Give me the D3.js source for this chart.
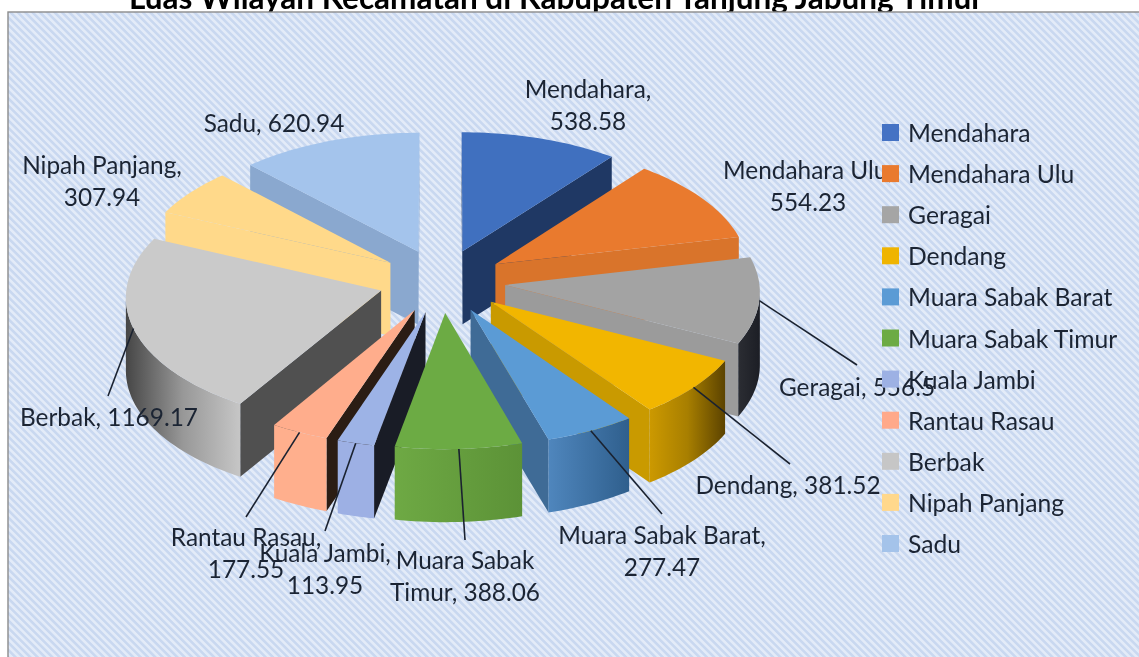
<!DOCTYPE html>
<html><head><meta charset="utf-8">
<script src="https://cdn.jsdelivr.net/npm/d3@7"></script>
<style>html,body{margin:0;padding:0;background:#fff;overflow:hidden}svg{display:block;filter:blur(.45px)}text{font-family:Lato,"Open Sans",sans-serif;fill:#1b2433}</style>
</head><body><svg id="c" width="1139" height="657"></svg>
<script>
const titleText = "Luas Wilayah Kecamatan di Kabupaten Tanjung Jabung Timur";
const categories = ["Mendahara","Mendahara Ulu","Geragai","Dendang","Muara Sabak Barat","Muara Sabak Timur","Kuala Jambi","Rantau Rasau","Berbak","Nipah Panjang","Sadu"];
const values = [538.58,554.23,556.5,381.52,277.47,388.06,113.95,177.55,1169.17,307.94,620.94];
const legendColors = ["#4472c4","#e97a2e","#a5a5a5","#efb400","#5b9bd5","#6cab44","#9db1e4","#ffa98a","#c6c6c6","#ffd88c","#a4c3ea"];
const topColors = ["#4070bf","#e97a2e","#a3a3a3","#f2b600","#5b9bd5","#6cab44","#9db3e6","#ffad8c","#cacaca","#ffd98a","#a4c4ec"];
const radialWallColors = ["#1f3864","#d9742b","#9b9b9b","#c99a00","#3f6b96","#5c9237","#191c26","#2b1d14","#505050","#ffd98a","#8aa8cf"];
const outerWallStops = [["#1f3864","#1f3864"],["#d9742b","#d9742b"],["#2b2d33","#1c1e25"],["#cc9900","#a87f00","#5c4300"],["#4f86bd","#2f5f8d"],["#6ea944","#5c9237"],["#9db0e4","#9db0e4"],["#ffaf8d","#ffaf8d"],["#464646","#989898","#c6c6c6"],["#ffd98a","#ffd98a"],["#8aa8cf","#8aa8cf"]];

const labelLines = [["Mendahara,","538.58"],["Mendahara Ulu,","554.23"],["Geragai, 556.5"],["Dendang, 381.52"],["Muara Sabak Barat,","277.47"],["Muara Sabak","Timur, 388.06"],["Kuala Jambi,","113.95"],["Rantau Rasau,","177.55"],["Berbak, 1169.17"],["Nipah Panjang,","307.94"],["Sadu, 620.94"]];
const labelX = [588,808,857,788,662,465,325,246,109,102,274];
const labelBase = [98,179,396,494,544,569,562,546,426,174,132];
const leaderEnd = [null,null,[857,365],[790,464],[662,514],[465,540],[325,531],[246,517],[108,396],null,null];

const svg = d3.select("#c");
const defs = svg.append("defs");
const period=5.2;
const pat = defs.append("pattern").attr("id","stripes").attr("width",period).attr("height",period)
  .attr("patternUnits","userSpaceOnUse").attr("patternTransform","rotate(45)");
pat.append("rect").attr("width",period).attr("height",period).attr("fill","#e3ebf8");
pat.append("rect").attr("width",period).attr("height",period/2).attr("fill","#c9d8f0");

svg.append("text").attr("x",556).attr("y",9).attr("text-anchor","middle")
  .attr("font-size",31.5).attr("font-weight",700).style("fill","#000").text(titleText);
svg.append("rect").attr("x",8).attr("y",12).attr("width",1140).attr("height",660)
  .attr("fill","url(#stripes)").attr("stroke","#8c8c8c").attr("stroke-width",1.4);

// projection of the tilted pie
const cx=442, cy=281, Rx=254, Ry=127, persp=.045, explode=.25, depth=73;
const pie = d3.pie().sort(null).value(d=>d);
const arcs = pie(values);
function project(X,Y,drop=0){const s=1/(1+persp*Y);return [cx+Rx*X*s, cy-Ry*Y*s+drop];}
const off = a=>{const b=(a.startAngle+a.endAngle)/2;return [explode*Math.sin(b),explode*Math.cos(b)];};
const line = d3.line();
function arcPts(a,drop=0){
  const [ox,oy]=off(a), n=Math.max(4,Math.ceil((a.endAngle-a.startAngle)*40));
  return d3.range(n+1).map(i=>{const t=a.startAngle+(a.endAngle-a.startAngle)*i/n;
    return project(ox+Math.sin(t),oy+Math.cos(t),drop);});
}
const apex=(a,drop=0)=>{const [ox,oy]=off(a);return project(ox,oy,drop);};
const order = d3.range(values.length).sort((p,q)=>{const b=i=>(arcs[i].startAngle+arcs[i].endAngle)/2;return Math.cos(b(q))-Math.cos(b(p));});
const gPie = svg.append("g");
const wall=(top,bot)=>line(top.concat(bot.slice().reverse()))+"Z";
order.forEach(i=>{
  const a=arcs[i], g=gPie.append("g");
  const T=arcPts(a), B=arcPts(a,depth), A=apex(a), AB=apex(a,depth);
  if(T[0][0]<A[0]) g.append("path").attr("d",wall([A,T[0]],[AB,B[0]])).attr("fill",radialWallColors[i]);
  const last=T.length-1;
  if(A[0]<T[last][0]) g.append("path").attr("d",wall([T[last],A],[B[last],AB])).attr("fill",radialWallColors[i]);
  const idx=d3.range(last).filter(k=>T[k+1][0]<T[k][0]);
  if(idx.length){
    const first=idx[0], end=idx[idx.length-1]+1;
    const topSeg=T.slice(first,end+1), botSeg=B.slice(first,end+1);
    const gid="g"+i, gr=defs.append("linearGradient").attr("id",gid);
    const st=outerWallStops[i];
    st.forEach((c,k)=>gr.append("stop").attr("offset",k/(st.length-1)).attr("stop-color",c));
    g.append("path").attr("d",wall(topSeg,botSeg)).attr("fill",`url(#${gid})`);
  }
  g.append("path").attr("d",line([A,...T])+"Z").attr("fill",topColors[i]);
});

// leaders
arcs.forEach((a,i)=>{
  if(!leaderEnd[i]) return;
  const b=(a.startAngle+a.endAngle)/2,k=1+explode;
  const p=project(k*Math.sin(b),k*Math.cos(b));
  svg.append("path").attr("d",line([p,leaderEnd[i]])).attr("stroke","#1a2230").attr("stroke-width",1.6).attr("fill","none");
});

// labels
const fs=24.4, lh=32;
labelLines.forEach((ls,i)=>{
  const t=svg.append("text").attr("font-size",fs).attr("text-anchor","middle");
  ls.forEach((s,k)=>t.append("tspan").attr("x",labelX[i]).attr("y",labelBase[i]+k*lh).text(s));
});

// legend
const ly=d3.scalePoint().domain(categories).range([133,544]);
const lg=svg.append("g").selectAll("g").data(categories).join("g").attr("transform",d=>`translate(882,${ly(d)})`);
lg.append("rect").attr("x",0).attr("y",-9).attr("width",17).attr("height",17).attr("fill",(d,i)=>legendColors[i]);
lg.append("text").attr("x",26).attr("y",9).attr("font-size",24.7).text(d=>d);
</script></body></html>
